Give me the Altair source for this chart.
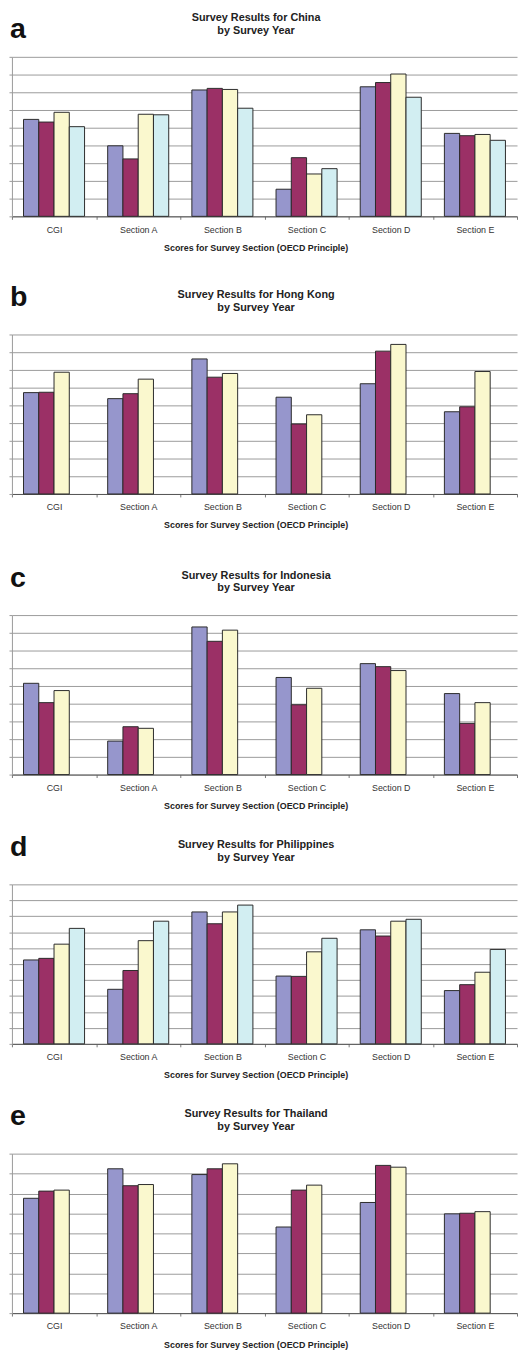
import altair as alt
import pandas as pd

sections = ["CGI", "Section A", "Section B", "Section C", "Section D", "Section E"]
series_names = ["Survey 1", "Survey 2", "Survey 3", "Survey 4"]
colors = ["#9696CC", "#9B3066", "#FAF8CE", "#D2EEF2"]

letters = ["a", "b", "c", "d", "e"]
countries = ["China", "Hong Kong", "Indonesia", "Philippines", "Thailand"]
y_max = [90, 90, 90, 100, 80]
axis_title = "Scores for Survey Section (OECD Principle)"

china_s1 = [54.7, 39.8, 71.3, 15.3, 73.1, 46.8]
china_s2 = [53.2, 32.4, 72.2, 33.1, 75.5, 45.5]
china_s3 = [58.7, 57.6, 71.6, 23.9, 80.3, 46.2]
china_s4 = [50.6, 57.3, 61.0, 26.9, 67.2, 42.9]

hongkong_s1 = [57.2, 53.8, 76.2, 54.6, 62.2, 46.4]
hongkong_s2 = [57.4, 56.6, 65.9, 39.5, 80.6, 49.2]
hongkong_s3 = [68.7, 64.8, 68.0, 44.7, 84.4, 69.1]

indonesia_s1 = [51.5, 18.9, 83.3, 54.8, 62.6, 45.7]
indonesia_s2 = [40.6, 27.0, 75.2, 39.4, 60.9, 28.9]
indonesia_s3 = [47.4, 26.1, 81.5, 48.7, 58.7, 40.6]

philippines_s1 = [52.6, 34.2, 82.7, 42.5, 71.5, 33.4]
philippines_s2 = [53.6, 46.0, 75.3, 42.3, 67.6, 37.1]
philippines_s3 = [62.5, 64.7, 82.7, 57.7, 76.9, 44.9]
philippines_s4 = [72.4, 76.9, 87.0, 66.2, 78.1, 59.2]

thailand_s1 = [57.6, 72.4, 69.5, 43.2, 55.5, 49.8]
thailand_s2 = [61.2, 63.9, 72.4, 61.7, 74.1, 50.1]
thailand_s3 = [61.7, 64.5, 74.9, 64.2, 73.2, 50.9]

all_series = [
    [china_s1, china_s2, china_s3, china_s4],
    [hongkong_s1, hongkong_s2, hongkong_s3],
    [indonesia_s1, indonesia_s2, indonesia_s3],
    [philippines_s1, philippines_s2, philippines_s3, philippines_s4],
    [thailand_s1, thailand_s2, thailand_s3],
]

# layout styles (not data)
W, H = 513, 162
FONT = "Liberation Sans"
title_offsets = [-45, -46, -46, -46, -46]
letter_offsets = [-42, -52, -52, -52, -52]


def panel(i):
    series = all_series[i]
    n = len(series)
    rows = []
    for si, vals in enumerate(series):
        for sec, v in zip(sections, vals):
            rows.append({"section": sec, "year": series_names[si], "score": v})
    df = pd.DataFrame(rows)
    po = 0.758 if n == 4 else 0.722
    ymax = y_max[i]
    bars = alt.Chart(df).mark_bar(stroke="#2b2b2b", strokeWidth=1).encode(
        x=alt.X(
            "section:N", sort=sections,
            scale=alt.Scale(paddingInner=0, paddingOuter=0),
            axis=alt.Axis(title=None, labelAngle=0, tickBand="extent", tickSize=3,
                          labelPadding=6, labelFontSize=9, labelFont=FONT,
                          labelColor="#333", domainColor="#555", tickColor="#777",
                          grid=False),
        ),
        xOffset=alt.XOffset("year:N", scale=alt.Scale(paddingInner=0, paddingOuter=po)),
        y=alt.Y(
            "score:Q",
            scale=alt.Scale(domain=[0, ymax], nice=False),
            axis=alt.Axis(title=None, labels=False, values=list(range(0, ymax + 1, 10)),
                          grid=True, gridColor="#9a9a9a", tickSize=3, tickColor="#999",
                          domainColor="#999"),
        ),
        color=alt.Color("year:N", scale=alt.Scale(domain=series_names[:n], range=colors[:n]),
                        legend=None),
    )
    tdf = pd.DataFrame({"t": [f"Survey Results for {countries[i]}\nby Survey Year"]})
    title = alt.Chart(tdf).mark_text(
        lineBreak="\n", fontSize=11, fontWeight="bold", font=FONT, baseline="top",
        align="center", lineHeight=13, color="#222",
    ).encode(text="t:N", x=alt.value(248), y=alt.value(title_offsets[i]))
    ldf = pd.DataFrame({"t": [letters[i]]})
    letter = alt.Chart(ldf).mark_text(
        fontSize=29, fontWeight="bold", font=FONT, align="left", baseline="top",
        color="#111",
    ).encode(text="t:N", x=alt.value(-2), y=alt.value(letter_offsets[i]))
    adf = pd.DataFrame({"t": [axis_title]})
    atitle = alt.Chart(adf).mark_text(
        fontSize=9, fontWeight="bold", font=FONT, align="center", baseline="middle",
        color="#222",
    ).encode(text="t:N", x=alt.value(248), y=alt.value(H + 32))
    return alt.layer(bars, title, letter, atitle).properties(width=W, height=H)


panels = [panel(i) for i in range(5)]

chart = alt.vconcat(
    alt.vconcat(panels[0], panels[1], spacing=31),
    alt.vconcat(panels[2], panels[3], panels[4], spacing=22.5),
    spacing=34,
).properties(
    padding={"left": 0, "top": -6, "right": 0, "bottom": 0}
).configure_view(stroke=None)

chart.save("out.html", embed_options={"renderer": "svg", "actions": False})
